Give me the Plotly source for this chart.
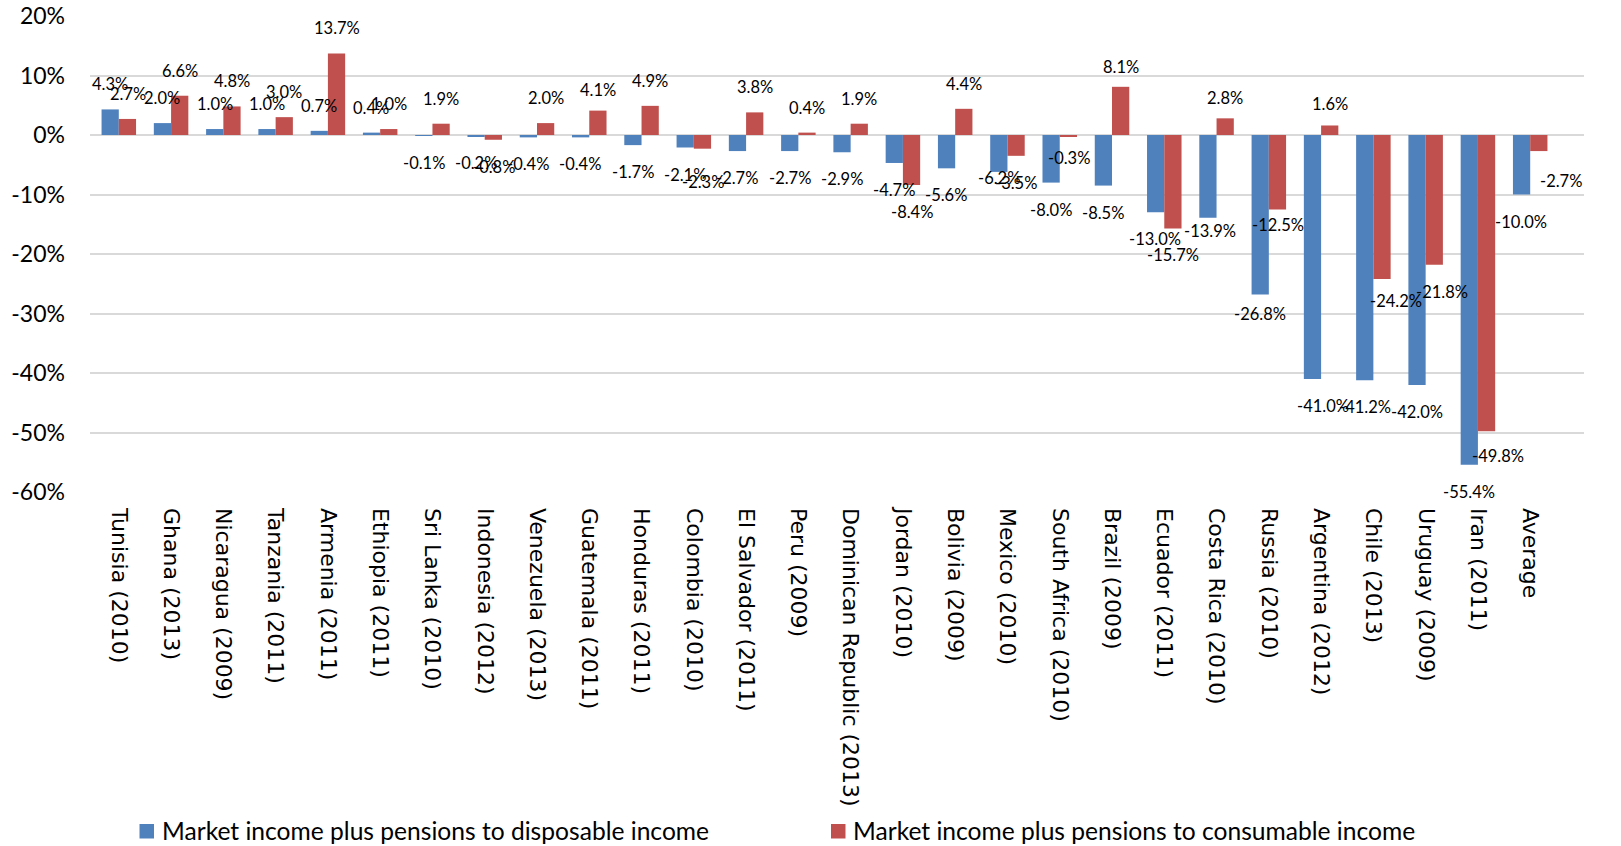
import plotly.graph_objects as go

# Categories (country and survey year)
countries = [
    "Tunisia (2010)", "Ghana (2013)", "Nicaragua (2009)", "Tanzania (2011)",
    "Armenia (2011)", "Ethiopia (2011)", "Sri Lanka (2010)", "Indonesia (2012)",
    "Venezuela (2013)", "Guatemala (2011)", "Honduras (2011)", "Colombia (2010)",
    "El Salvador (2011)", "Peru (2009)", "Dominican Republic (2013)", "Jordan (2010)",
    "Bolivia (2009)", "Mexico (2010)", "South Africa (2010)", "Brazil (2009)",
    "Ecuador (2011)", "Costa Rica (2010)", "Russia (2010)", "Argentina (2012)",
    "Chile (2013)", "Uruguay (2009)", "Iran (2011)", "Average",
]

# Percent change, market income plus pensions -> disposable income
disposable = [
    4.3, 2.0, 1.0, 1.0, 0.7, 0.4, -0.1, -0.2, -0.4, -0.4, -1.7, -2.1, -2.7, -2.7,
    -2.9, -4.7, -5.6, -6.2, -8.0, -8.5, -13.0, -13.9, -26.8, -41.0, -41.2, -42.0,
    -55.4, -10.0,
]

# Percent change, market income plus pensions -> consumable income
consumable = [
    2.7, 6.6, 4.8, 3.0, 13.7, 1.0, 1.9, -0.8, 2.0, 4.1, 4.9, -2.3, 3.8, 0.4,
    1.9, -8.4, 4.4, -3.5, -0.3, 8.1, -15.7, 2.8, -12.5, 1.6, -24.2, -21.8,
    -49.8, -2.7,
]

y_ticks = [20, 10, 0, -10, -20, -30, -40, -50, -60]

series_names = [
    "Market income plus pensions to disposable income",
    "Market income plus pensions to consumable income",
]

BLUE = "#4F81BD"
RED = "#C0504D"
GRID = "#D9D9D9"

W, H = 1621, 846
M_L, M_R, M_T, M_B = 90, 37, 16, 354
BARGAP = 0.34

plot_w = W - M_L - M_R
plot_h = H - M_T - M_B
cat_px = plot_w / len(countries)
bar_px = cat_px * (1 - BARGAP) / 2


def px_x(px):
    """Page pixel column -> paper x."""
    return (px - M_L) / plot_w


def px_y(py):
    """Page pixel row -> paper y."""
    return (H - M_B - py) / plot_h


fig = go.Figure()
fig.add_trace(go.Bar(x=countries, y=disposable, name=series_names[0],
                     marker=dict(color=BLUE, line=dict(width=0))))
fig.add_trace(go.Bar(x=countries, y=consumable, name=series_names[1],
                     marker=dict(color=RED, line=dict(width=0))))

# value labels just beyond the end of each bar; a few are hand-placed
# (series index, category) -> (dx px, dy px, dy positive = up)
label_font = dict(family="Lato, sans-serif", size=16.5, color="#000000")
nudge = {
    (0, "Mexico (2010)"): (0, 21),
    (0, "Costa Rica (2010)"): (2, 14),
    (0, "Russia (2010)"): (0, 7.5),
    (0, "Argentina (2012)"): (11, 0),
    (1, "Colombia (2010)"): (0, -6),
    (1, "Guatemala (2011)"): (0, -4),
    (1, "South Africa (2010)"): (0, 6),
    (1, "Brazil (2009)"): (0, -5),
    (1, "Costa Rica (2010)"): (0, -5),
    (1, "Russia (2010)"): (0, 11),
    (1, "Argentina (2012)"): (0, -4),
    (1, "Chile (2013)"): (14, 5),
    (1, "Uruguay (2009)"): (8, 0),
    (1, "Iran (2011)"): (11, 2),
    (1, "Average"): (22, -3),
}
for s, (vals, dx) in enumerate([(disposable, -bar_px / 2), (consumable, bar_px / 2)]):
    for c, v in zip(countries, vals):
        ndx, ndy = nudge.get((s, c), (0, 0))
        fig.add_annotation(
            x=c, y=v, xref="x", yref="y",
            text=f"{v:.1f}%", showarrow=False, font=label_font,
            xshift=dx + ndx,
            yshift=(25 if v >= 0 else -27) + ndy,
        )

# legend row beneath the category labels
legend_font = dict(family="Lato, sans-serif", size=24.6, color="#000000")
for name, color, x0 in [(series_names[0], BLUE, 139.5), (series_names[1], RED, 831)]:
    fig.add_shape(
        type="rect", xref="paper", yref="paper",
        x0=px_x(x0), x1=px_x(x0 + 14.5), y0=px_y(838.5), y1=px_y(824),
        fillcolor=color, line=dict(width=0),
    )
    fig.add_annotation(
        x=px_x(x0 + 21), y=px_y(830.5), xref="paper", yref="paper",
        xanchor="left", yanchor="middle", text=name, showarrow=False,
        font=legend_font, borderpad=0,
    )

fig.update_layout(
    width=W, height=H,
    margin=dict(l=M_L, r=M_R, t=M_T, b=M_B, autoexpand=False),
    barmode="group", bargap=BARGAP, bargroupgap=0,
    plot_bgcolor="white", paper_bgcolor="white",
    showlegend=False,
)

fig.update_xaxes(
    type="category", tickangle=90, showgrid=False, showline=False, ticks="",
    ticklabelstandoff=15,
    tickfont=dict(family="DejaVu Sans, sans-serif", size=22, color="#000000"),
)
fig.update_yaxes(
    range=[-60, 20], tickvals=y_ticks, ticktext=[f"{t}%" for t in y_ticks],
    showgrid=True, gridcolor=GRID, gridwidth=1.5,
    zeroline=True, zerolinecolor=GRID, zerolinewidth=1.5,
    showline=False, ticks="", ticklabelstandoff=24,
    tickfont=dict(family="Lato, sans-serif", size=23, color="#000000"),
)

fig.write_html("out.html")
